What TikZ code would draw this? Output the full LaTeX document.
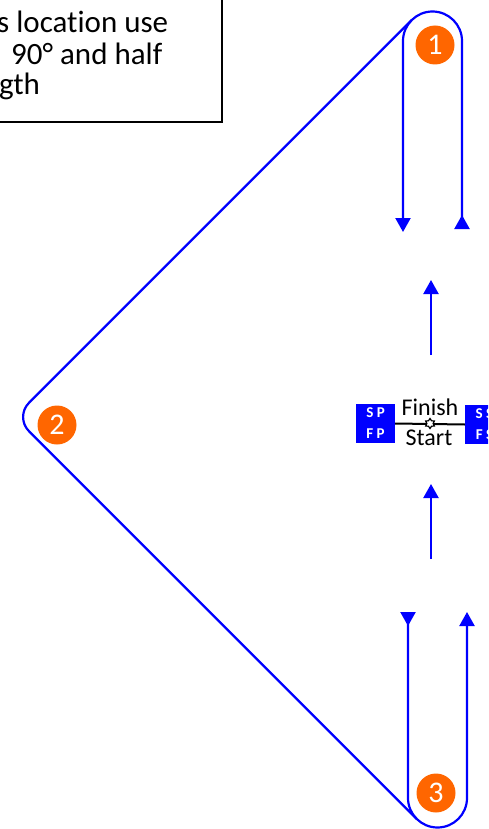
\documentclass[tikz,border=0pt]{standalone}
\usepackage{fontspec}
\setmainfont{Carlito}[Ligatures=NoCommon]
\usetikzlibrary{arrows.meta,shapes.geometric}
\definecolor{routeblue}{RGB}{0,0,255}
\definecolor{markorange}{RGB}{255,102,0}
\tikzset{
    route/.style={draw=routeblue, line width=2.2pt},
    uptip/.style={route, -{Triangle[length=14pt, width=15pt]}},
    loopway/.style={route, {Triangle[reversed, length=14pt, width=15pt]}-{Triangle[length=14pt, width=15pt]}},
    marker/.style={circle, fill=markorange, text=white, minimum size=39pt,
                   inner sep=0pt, font=\fontsize{30}{30}\selectfont},
    station/.style={fill=routeblue, text=white, minimum width=39pt, minimum height=39pt,
                    inner sep=0pt, align=center, font=\fontsize{15}{21}\selectfont\bfseries},
    pin/.style={star, star points=6, star point ratio=1.6, minimum size=10pt,
                inner sep=0pt, draw, fill=white, line width=1.2pt},
    tag/.style={font=\fontsize{24}{24}\selectfont, anchor=base, inner sep=0pt},
    note/.style={font=\fontsize{31}{31}\selectfont, anchor=base west, inner sep=0pt},
}

\begin{document}
\begin{tikzpicture}[x=1pt, y=-1pt]
    \useasboundingbox (0,0) rectangle (488,829);
    \clip (0,0) rectangle (488,829);

    % note box, cut by the picture edge
    \draw[line width=1.6pt] (-10,-10) rectangle (222,122);
    \node[note] (line1) at (-3,33) {s location use};
    \node[note] (line2) at (11,65) {90° and half};
    \node[note] (line3) at (-1,95) {gth};

    % loop ends
    \coordinate (topin) at (462,229);
    \coordinate (topout) at (403,232);
    \coordinate (botin) at (408,612);
    \coordinate (botout) at (467,612);

    \draw[loopway, rounded corners=29.5pt] (topin) -- (462,11.5) -- (403,11.5) -- (topout);
    \draw[loopway, rounded corners=29.5pt] (botin) -- (408,827.5) -- (467,827.5) -- (botout);
    \draw[route, rounded corners=20pt] (411.64,20.14) -- (14.8,417) -- (416.64,818.86);

    % straight legs
    \coordinate (legA) at (431,355);
    \coordinate (legAtip) at (431,280);
    \coordinate (legB) at (431,559);
    \coordinate (legBtip) at (431,484);
    \draw[uptip] (legA) -- (legAtip);
    \draw[uptip] (legB) -- (legBtip);

    % start / finish line
    \node[station] (sp) at (375.5,423.5) {S P\\F P};
    \node[station] (ss) at (484.5,424.5) {S S\\F S};
    \draw[line width=2pt] (sp.east) -- (ss.west);
    \node[pin] (gate) at (430,423.5) {};
    \node[tag] (finish) at (430,415) {Finish};
    \node[tag] (start) at (429,445) {Start};

    % markers
    \node[marker] (m1) at (435,45) {1};
    \node[marker] (m2) at (57,425) {2};
    \node[marker] (m3) at (436,793) {3};
\end{tikzpicture}
\end{document}
